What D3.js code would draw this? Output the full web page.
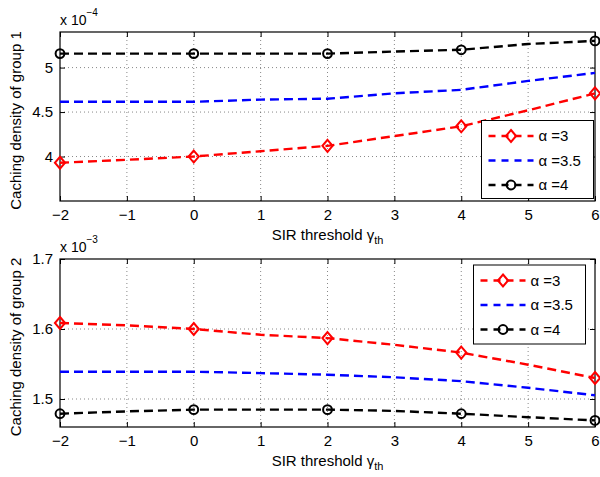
<!DOCTYPE html>
<html><head><meta charset="utf-8">
<script src="https://cdn.jsdelivr.net/npm/d3@7"></script>
<style>
body{margin:0;background:#fff;}
svg{display:block;font-family:"Liberation Sans",Arial,Helvetica,sans-serif;}
</style></head>
<body>
<svg id="c" width="600" height="477"></svg>
<script>
// ---- data ----
const xVals = [-2, -1, 0, 1, 2, 3, 4, 5, 6];
const markerX = [-2, 0, 2, 4, 6];
const xTicks = [-2, -1, 0, 1, 2, 3, 4, 5, 6];
const seriesNames = ["α =3", "α =3.5", "α =4"];
// group 1 (x 10^-4)
const g1_a3  = [3.93, 3.963, 4.00, 4.06, 4.12, 4.23, 4.34, 4.52, 4.71];
const g1_a35 = [4.615, 4.615, 4.615, 4.64, 4.65, 4.71, 4.75, 4.85, 4.94];
const g1_a4  = [5.157, 5.157, 5.157, 5.157, 5.157, 5.18, 5.20, 5.265, 5.30];
const g1_yTicks = [4, 4.5, 5];
// group 2 (x 10^-3)
const g2_a3  = [1.6086, 1.6052, 1.600, 1.5918, 1.587, 1.5774, 1.5663, 1.549, 1.530];
const g2_a35 = [1.539, 1.539, 1.539, 1.537, 1.5347, 1.531, 1.5255, 1.516, 1.5053];
const g2_a4  = [1.479, 1.4823, 1.4848, 1.4848, 1.4848, 1.483, 1.479, 1.474, 1.4694];
const g2_yTicks = [1.5, 1.6, 1.7];

const colors = ["#ff0000", "#0000ff", "#000000"];
const markers = ["diamond", null, "circle"];

const svg = d3.select("#c");
const L = 60, R = 595;
const x = d3.scaleLinear().domain([-2, 6]).range([L, R]);

function panel(opts) {
  const {top, bottom, ydom, yTicks, series, ylabel, expo, legend} = opts;
  const y = d3.scaleLinear().domain(ydom).range([bottom, top]);
  const g = svg.append("g");
  // grid
  g.append("g").selectAll("line").data(xTicks.slice(1, -1)).join("line")
    .attr("x1", d => x(d)).attr("x2", d => x(d)).attr("y1", top).attr("y2", bottom)
    .attr("stroke", "#555").attr("stroke-width", 0.7).attr("stroke-dasharray", "1,3");
  g.append("g").selectAll("line").data(yTicks.filter(t => y(t) > top + 1 && y(t) < bottom - 1)).join("line")
    .attr("x1", L).attr("x2", R).attr("y1", d => y(d)).attr("y2", d => y(d))
    .attr("stroke", "#555").attr("stroke-width", 0.7).attr("stroke-dasharray", "1,3");
  // axes with inner ticks
  const xb = g.append("g").attr("transform", `translate(0,${bottom})`)
    .call(d3.axisBottom(x).tickValues(xTicks).tickSizeInner(-5).tickSizeOuter(0).tickPadding(8)
      .tickFormat(d => d < 0 ? "\u2212" + Math.abs(d) : d));
  const xt = g.append("g").attr("transform", `translate(0,${top})`)
    .call(d3.axisTop(x).tickValues(xTicks).tickSizeInner(-5).tickSizeOuter(0).tickFormat(""));
  const yl = g.append("g").attr("transform", `translate(${L},0)`)
    .call(d3.axisLeft(y).tickValues(yTicks).tickSizeInner(-5).tickSizeOuter(0).tickPadding(7)
      .tickFormat(d3.format("")));
  const yr = g.append("g").attr("transform", `translate(${R},0)`)
    .call(d3.axisRight(y).tickValues(yTicks).tickSizeInner(-5).tickSizeOuter(0).tickFormat(""));
  [xb, xt, yl, yr].forEach(a => {
    a.select(".domain").remove();
    a.selectAll("line").attr("stroke", "#000");
    a.selectAll("text").attr("font-size", 15).attr("fill", "#000")
      .attr("font-family", '"Liberation Sans",Arial,sans-serif');
  });
  // frame
  g.append("rect").attr("x", L).attr("y", top).attr("width", R - L).attr("height", bottom - top)
    .attr("fill", "none").attr("stroke", "#000").attr("stroke-width", 1.2);
  const line = d3.line().x((d, i) => x(xVals[i])).y(d => y(d));
  series.forEach((s, k) => {
    g.append("path").attr("d", line(s)).attr("fill", "none").attr("stroke", colors[k])
      .attr("stroke-width", 2.4).attr("stroke-dasharray", "9,5");
    if (markers[k]) {
      const pts = markerX.map(mx => [x(mx), y(s[xVals.indexOf(mx)])]);
      drawMarkers(g, pts, markers[k], colors[k]);
    }
  });
  // y label
  svg.append("text").attr("transform", `translate(21,${(top + bottom) / 2 + 4}) rotate(-90)`)
    .attr("text-anchor", "middle").attr("font-size", 15).text(ylabel);
  // x label
  const xlab = svg.append("text").attr("x", (L + R) / 2).attr("y", bottom + 39)
    .attr("text-anchor", "middle").attr("font-size", 15);
  xlab.append("tspan").text("SIR threshold \u03b3");
  xlab.append("tspan").attr("font-size", 11).attr("dy", 4).text("th");
  // exponent
  const ex = svg.append("text").attr("x", L).attr("y", top - 7).attr("font-size", 14);
  ex.append("tspan").text("x 10");
  ex.append("tspan").attr("font-size", 10).attr("dy", -9).text(expo);
  // legend
  const lg = svg.append("g");
  lg.append("rect").attr("x", legend.x).attr("y", legend.y).attr("width", legend.w).attr("height", legend.h)
    .attr("fill", "#fff").attr("stroke", "#000").attr("stroke-width", 1);
  seriesNames.forEach((nm, k) => {
    const yy = legend.y + 15.5 + k * 24.5;
    const x0 = legend.x + 7, x1 = legend.x + 52;
    lg.append("line").attr("x1", x0).attr("x2", x1).attr("y1", yy).attr("y2", yy)
      .attr("stroke", colors[k]).attr("stroke-width", 2.4).attr("stroke-dasharray", "7,6");
    if (markers[k]) drawMarkers(lg, [[(x0 + x1) / 2, yy]], markers[k], colors[k]);
    lg.append("text").attr("x", legend.x + 57).attr("y", yy + 5).attr("font-size", 15).text(nm);
  });
}

function drawMarkers(g, pts, type, col) {
  pts.forEach(([px, py]) => {
    if (type === "diamond") {
      const r = 6;
      g.append("path").attr("d", `M${px},${py - r}L${px + r * 0.85},${py}L${px},${py + r}L${px - r * 0.85},${py}Z`)
        .attr("fill", "none").attr("stroke", col).attr("stroke-width", 2);
    } else {
      g.append("circle").attr("cx", px).attr("cy", py).attr("r", 4.4)
        .attr("fill", "none").attr("stroke", col).attr("stroke-width", 2);
    }
  });
}

panel({top: 32, bottom: 201, ydom: [3.5, 5.4], yTicks: g1_yTicks,
  series: [g1_a3, g1_a35, g1_a4], ylabel: "Caching density of group 1", expo: "\u22124",
  legend: {x: 481.5, y: 120.5, w: 112, h: 78}});
panel({top: 259, bottom: 427, ydom: [1.46, 1.7], yTicks: g2_yTicks,
  series: [g2_a3, g2_a35, g2_a4], ylabel: "Caching density of group 2", expo: "\u22123",
  legend: {x: 473.5, y: 265, w: 112, h: 79}});
</script>
</body></html>
